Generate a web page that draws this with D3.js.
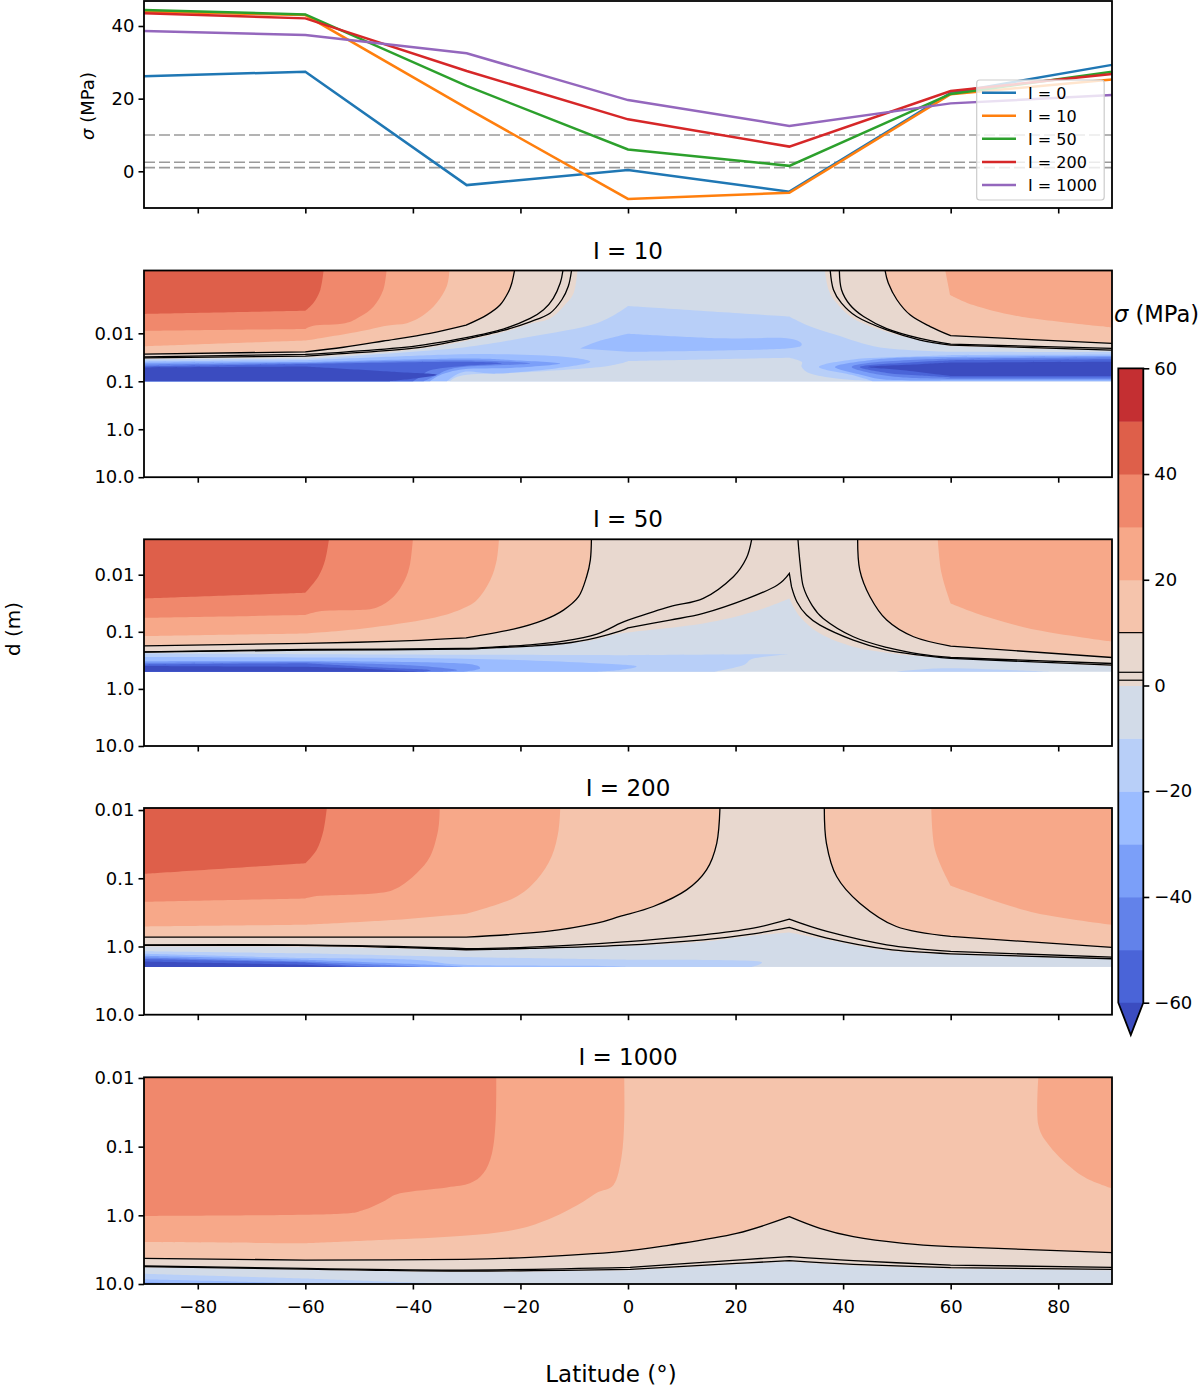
<!DOCTYPE html>
<html>
<head>
<meta charset="utf-8">
<script src="https://cdn.jsdelivr.net/npm/d3@7"></script>
<style>
  body { margin: 0; background: #fff; }
  text { font-family: "DejaVu Sans", sans-serif; fill: #000; }
</style>
</head>
<body>
<svg id="chart" width="1200" height="1386"></svg>
<script>
// surface stress against latitude, one line per I
const lats = [-90, -60, -30, 0, 30, 60, 90];
const stressI0 = [26.2, 27.4, -3.8, 0.35, -5.6, 21.6, 29.3];
const stressI10 = [44, 43, 17.4, -7.6, -5.9, 21.2, 25.3];
const stressI50 = [44.4, 43.2, 23.5, 6, 1.5, 21.3, 27.4];
const stressI200 = [43.5, 42.1, 27.6, 14.3, 6.8, 22.1, 26.8];
const stressI1000 = [38.6, 37.5, 32.5, 19.6, 12.5, 18.7, 21];
const seriesNames = ['I = 0', 'I = 10', 'I = 50', 'I = 200', 'I = 1000'];
const seriesColors = ['#1f77b4', '#ff7f0e', '#2ca02c', '#d62728', '#9467bd'];
const thresholds = [10, 2.5, 1];

// contour bands, points are [latitude, log10 depth]
const bandEdges = [-60, -50, -40, -30, -20, -10, 0, 10, 20, 30, 40, 50];
const bandColors = ['#3b4cc0', '#4a64d8', '#6282ea', '#7b9ff9', '#9bbcff', '#b8cff8', '#d2dbe8',
  '#e8d8cf', '#f5c4ac', '#f7a889', '#f0886c', '#de5f4a', '#c42f32'];
const depthTicks = [0.01, 0.1, 1, 10];
const latTicks = [-80, -60, -40, -20, 0, 20, 40, 60, 80];
const barTicks = [60, 40, 20, 0, -20, -40, -60];
// the model grid nodes, contours bend sharply there
const kinkLats = [-60, -30, 0, 30, 60];

// I = 10
const top10 = -3.31, bot10 = -1;
const i10s45 = [[-56.6, top10], [-57.2, -2.91], [-58.5, -2.63], [-60, -2.47], [-90, -2.405]];
const i10s35 = [[-44.9, top10], [-45.5, -2.91], [-47.3, -2.56], [-49.8, -2.35], [-52.6, -2.21], [-58.5, -2.16], [-60, -2.09], [-90, -2.05]];
const i10s25 = [[-33.2, top10], [-33.7, -2.98], [-35.6, -2.63], [-38, -2.38], [-41.1, -2.21], [-44.9, -2.16], [-50.4, -2.03], [-60, -1.85], [-90, -1.73]];
const i10c10L = [[-21.1, top10], [-21.6, -3.05], [-22.2, -2.87], [-23.8, -2.59], [-26.3, -2.38], [-30.1, -2.17], [-36.8, -2], [-45.5, -1.84], [-52.9, -1.71], [-60, -1.615], [-90, -1.565]];
const i10c2L = [[-12.1, top10], [-12.6, -3.05], [-13.9, -2.73], [-15.7, -2.49], [-18.2, -2.31], [-23.2, -2.09], [-30.1, -1.91], [-39.9, -1.73], [-52.3, -1.615], [-60, -1.56], [-90, -1.51]];
const i10c1L = [[-10.5, top10], [-11.1, -2.98], [-12.3, -2.7], [-14.5, -2.42], [-18.2, -2.24], [-23.2, -2.06], [-30.1, -1.88], [-39.9, -1.69], [-52.3, -1.58], [-60, -1.525], [-90, -1.49]];
const i10c0L = [[-9.4, top10], [-10.1, -2.84], [-12, -2.56], [-14.5, -2.31], [-18.2, -2.2], [-23.2, -2.02], [-30.1, -1.84], [-39.9, -1.66], [-60, -1.5], [-90, -1.47]];
const i10c0R = [[36.6, top10], [37.3, -2.91], [38.8, -2.63], [41.9, -2.31], [48.1, -2.03], [54.3, -1.86], [60, -1.73], [90, -1.64]];
const i10c1R = [[37.6, top10], [38.2, -2.91], [39.7, -2.63], [42.5, -2.35], [48.1, -2.07], [54.3, -1.86], [60, -1.755], [90, -1.65]];
const i10c2R = [[39.3, top10], [39.7, -2.91], [41.3, -2.59], [43.8, -2.35], [48.1, -2.1], [54.3, -1.895], [60, -1.775], [90, -1.685]];
const i10c10R = [[47.8, top10], [48.4, -3.05], [50, -2.7], [52.5, -2.38], [56.2, -2.14], [60, -1.95], [90, -1.79]];
const i10s25R = [[59, top10], [59.9, -2.8], [64.2, -2.59], [72.9, -2.35], [90, -2.12]];
const i10n15 = [[-90, -1.455], [-60, -1.47], [-49.2, -1.545], [-30.6, -1.706], [-18.2, -1.93], [-5.8, -2.21], [0, -2.57], [30, -2.35], [33.2, -2.175], [38.8, -1.965], [46.9, -1.706], [60, -1.615], [90, -1.61]];
const i10gap = [[-33.1, -1], [-30.6, -1.126], [-18.2, -1.196], [-5, -1.3], [-1.5, -1.37], [0, -1.42], [30, -1.49], [32.3, -1.405], [32.3, -1.3], [33.9, -1.16], [38.8, -1.056], [45.6, -1]];
const i10n25mid = [[-8.9, -1.685], [-5.8, -1.825], [0, -1.99], [17.1, -1.895], [29.5, -1.895], [32.3, -1.776], [29.5, -1.685], [0, -1.615]];
const i10n25L = [[-90, -1.413], [-60, -1.44], [-36.8, -1.545], [-24.4, -1.566], [-12, -1.51], [-7, -1.405], [-13.2, -1.27], [-24.4, -1.16], [-30.6, -1.196], [-33.7, -1]];
const i10n35L = [[-90, -1.385], [-60, -1.4], [-30.6, -1.475], [-21.3, -1.44], [-12.6, -1.37], [-21.3, -1.28], [-30.6, -1.25], [-35, -1.126], [-36.8, -1]];
const i10n45L = [[-90, -1.35], [-60, -1.38], [-30.6, -1.44], [-18.2, -1.37], [-30.6, -1.3], [-33.7, -1.23], [-35.6, -1.126], [-38, -1]];
const i10n55L = [[-90, -1.315], [-60, -1.36], [-30.6, -1.405], [-23.5, -1.37], [-30.6, -1.32], [-36.8, -1.23], [-38.5, -1.1], [-40, -1]];
const i10n65L = [[-90, -1.29], [-60, -1.31], [-43, -1.196], [-35.6, -1.14], [-39.9, -1.056], [-44.3, -1]];
const i10n25R = [[45.6, -1], [41.9, -1.126], [35.5, -1.3], [41.9, -1.455], [51.2, -1.51], [60, -1.545], [90, -1.56]];
const i10n35R = [[90, -1.02], [60, -1.02], [48.1, -1.03], [43.1, -1.14], [38.5, -1.3], [45, -1.44], [54.3, -1.5], [90, -1.525]];
const i10n45R = [[90, -1.05], [60, -1.05], [51.2, -1.08], [45.6, -1.16], [41.6, -1.3], [46.9, -1.405], [60, -1.475], [90, -1.5]];
const i10n55R = [[90, -1.08], [60, -1.08], [54.3, -1.12], [48.1, -1.175], [43.1, -1.3], [51.2, -1.385], [60, -1.44], [90, -1.46]];
const i10n65R = [[90, -1.11], [60, -1.11], [51.2, -1.23], [44.7, -1.3], [54.3, -1.357], [60, -1.39], [90, -1.405]];

// I = 50
const top50 = -2.62, bot50 = -0.3;
const i50s45 = [[-55.6, top50], [-56.3, -2.26], [-57.6, -1.965], [-60, -1.685], [-90, -1.585]];
const i50s35 = [[-40, top50], [-40.5, -2.2], [-41.5, -1.907], [-43.6, -1.614], [-46.7, -1.427], [-50.4, -1.38], [-57, -1.363], [-60, -1.293], [-90, -1.246]];
const i50s25 = [[-24, top50], [-24.4, -2.26], [-25.6, -1.907], [-28.1, -1.556], [-31.1, -1.392], [-36.8, -1.234], [-49.2, -1.059], [-60, -0.971], [-90, -0.924]];
const i50c10L = [[-6.8, top50], [-7, -2.26], [-7.7, -1.965], [-9.2, -1.614], [-12, -1.38], [-15.7, -1.205], [-21.3, -1.047], [-30.1, -0.895], [-43, -0.837], [-60, -0.796], [-90, -0.755]];
const i50c10R = [[42.7, top50], [43.1, -2.08], [45, -1.614], [48.1, -1.205], [53.1, -0.913], [60, -0.749], [90, -0.55]];
const i50s25R = [[57.6, top50], [58.3, -2.024], [60, -1.497], [66.7, -1.263], [76, -1.03], [90, -0.825]];
const i50c2L = [[-90, -0.65], [-60, -0.69], [-31, -0.708], [-24.4, -0.737], [-18.2, -0.772], [-12, -0.837], [-5.8, -0.96], [-1.5, -1.146], [0, -1.205], [7.8, -1.44], [14, -1.585], [19.6, -1.965], [22, -2.287], [23, top50]];
const i50c2R = [[31.6, top50], [32, -2.2], [32.6, -1.79], [34.2, -1.468], [36.3, -1.234], [41.9, -0.913], [48.1, -0.726], [54.3, -0.608], [60, -0.55], [90, -0.445]];
const i50c1 = [[-90, -0.644], [-60, -0.68], [-31, -0.696], [-24.4, -0.725], [-18.2, -0.749], [-12, -0.795], [-5.8, -0.9], [-1.5, -1.012], [0, -1.07], [7.8, -1.205], [14, -1.322], [22.3, -1.585], [27.8, -1.82], [30, -2.024], [30.4, -1.79], [31.4, -1.527], [33.2, -1.293], [35.7, -1.117], [41.9, -0.854], [48.1, -0.679], [54.3, -0.591], [60, -0.533], [90, -0.416]];
const i50c0 = [[-90, -0.63], [-60, -0.67], [-31, -0.69], [-18.2, -0.74], [-12, -0.78], [-5.8, -0.87], [-1.5, -0.97], [14, -1.147], [23.3, -1.351], [30, -1.585], [32, -1.263], [35.7, -0.97], [41.9, -0.737], [48.1, -0.632], [54.3, -0.574], [90, -0.4]];
const i50n15L = [[-90, -0.62], [0, -0.59], [30, -0.608], [23.3, -0.533], [21.4, -0.416], [15.9, bot50]];
const i50n15R = [[49.7, bot50], [57.4, -0.357], [66.7, -0.345], [79, bot50]];
const i50n25 = [[-90, -0.56], [-30.6, -0.53], [-1.5, -0.427], [1.6, -0.386], [-1.5, -0.33], [-6, bot50]];
const i50n35 = [[-90, -0.486], [-60, -0.49], [-30.6, -0.445], [-27.5, -0.357], [-30.6, bot50]];
const i50n45 = [[-90, -0.457], [-60, -0.47], [-40, -0.41], [-31.8, -0.33], [-35, bot50]];
const i50n55 = [[-90, -0.427], [-60, -0.45], [-45, -0.37], [-36.8, -0.33], [-38, bot50]];
const i50n65 = [[-90, -0.4], [-60, -0.386], [-50, -0.357], [-38.7, bot50]];

// I = 200
const top200 = -2.03, bot200 = 0.3;
const i200s45 = [[-56, top200], [-56.6, -1.708], [-57.9, -1.415], [-60, -1.22], [-90, -1.064]];
const i200s35 = [[-35, top200], [-35.3, -1.708], [-36.8, -1.318], [-39.3, -1.074], [-43, -0.854], [-46.7, -0.781], [-57.3, -0.742], [-60, -0.703], [-90, -0.654]];
const i200s25 = [[-12.6, top200], [-12.9, -1.708], [-14.2, -1.318], [-17, -0.976], [-21.3, -0.708], [-30.1, -0.479], [-43, -0.391], [-60, -0.318], [-90, -0.293]];
const i200c10L = [[17.1, top200], [16.5, -1.513], [14.6, -1.123], [10.9, -0.83], [4.7, -0.586], [-1.5, -0.44], [-5.8, -0.342], [-15.1, -0.22], [-30.1, -0.137], [-90, -0.137]];
const i200c10R = [[36.5, top200], [36.9, -1.513], [38.8, -1.025], [43.1, -0.635], [49.9, -0.293], [60, -0.147], [90, 0.014]];
const i200s25R = [[56.4, top200], [57.1, -1.415], [60, -0.89], [66.7, -0.708], [76, -0.488], [90, -0.318]];
const i200c2 = [[-90, -0.025], [-61.6, -0.025], [-43, 0], [-30.1, 0.033], [-18.2, 0.009], [-1.5, -0.064], [14, -0.171], [23.3, -0.269], [30, -0.4], [37, -0.22], [48.1, -0.025], [60, 0.073], [90, 0.155]];
const i200c1 = [[-90, -0.015], [-61.6, -0.015], [-43, 0.014], [-30.1, 0.048], [-18.2, 0.029], [-1.5, -0.015], [14, -0.098], [23.3, -0.186], [30, -0.279], [37, -0.123], [48.1, 0.039], [60, 0.107], [90, 0.18]];
const i200c0 = [[-90, 0], [-61.6, 0.005], [-43, 0.03], [-30.1, 0.06], [-18.2, 0.04], [0.4, -0.01], [14, -0.07], [23.3, -0.16], [30, -0.206], [37, -0.1], [48.1, 0.06], [60, 0.12], [90, 0.19]];
const i200n15 = [[-90, 0.07], [-60, 0.1], [-30.6, 0.155], [0, 0.195], [24.5, 0.219], [23, bot200]];
const i200n25 = [[-90, 0.107], [-60, 0.17], [-40, 0.194], [-30.6, 0.268], [-5, 0.285], [0, bot200]];
const i200n35 = [[-90, 0.136], [-60, 0.194], [-36.8, 0.268], [-30.6, bot200]];
const i200n45 = [[-90, 0.16], [-60, 0.22], [-43, 0.277], [-38, bot200]];
const i200n55 = [[-90, 0.185], [-60, 0.233], [-49.2, 0.29], [-45, bot200]];
const i200n65 = [[-90, 0.22], [-60, 0.268], [-52.3, bot200]];

// I = 1000
const top1000 = -2.01, bot1000 = 1;
const i1000s35 = [[-24.5, top1000], [-24.6, -1.388], [-25.3, -0.902], [-26.9, -0.611], [-29.4, -0.466], [-33.7, -0.407], [-42.4, -0.32], [-45.5, -0.2], [-49.2, -0.077], [-54.2, -0.019], [-90, 0.01]];
const i1000s25L = [[-0.7, top1000], [-0.7, -1.388], [-1.2, -0.854], [-2.7, -0.441], [-5.8, -0.33], [-8.9, -0.174], [-15.1, 0.068], [-21.3, 0.214], [-30.6, 0.297], [-43, 0.35], [-60, 0.408], [-90, 0.389]];
const i1000s25R = [[76.3, top1000], [76.3, -1.315], [78.5, -1], [82.2, -0.708], [85.3, -0.538], [90, -0.393]];
const i1000c10 = [[-90, 0.627], [-60, 0.651], [-30.6, 0.641], [-18.2, 0.612], [-1.5, 0.53], [7.8, 0.433], [20.2, 0.263], [30, 0.02], [35.7, 0.19], [41.9, 0.311], [51.2, 0.408], [60, 0.457], [90, 0.544]];
const i1000c2 = [[-90, 0.738], [-60, 0.772], [-30.6, 0.797], [0.4, 0.758], [20.2, 0.651], [30, 0.602], [41.9, 0.661], [60, 0.724], [90, 0.758]];
const i1000c1 = [[-90, 0.748], [-60, 0.782], [-30.6, 0.811], [0.4, 0.787], [20.2, 0.7], [30, 0.661], [41.9, 0.714], [60, 0.763], [90, 0.787]];
const i1000c0 = [[-90, 0.76], [-60, 0.795], [-30.6, 0.825], [0.4, 0.8], [20.2, 0.715], [30, 0.675], [41.9, 0.73], [60, 0.78], [90, 0.8]];
const i1000n15 = [[-90, 0.85], [-60, 0.92], [-43, 0.97], [-30.6, bot1000]];
const i1000n25 = [[-90, 0.93], [-70, 0.97], [-60, bot1000]];
const i1000n35 = [[-90, 0.975], [-80, bot1000]];

// [sigma inside the band, contour, extra corners to close it]
const left = top => [[-90, top]];
const right = top => [[90, top]];
const across = top => [[90, top], [-90, top]];
const belowL = bot => [[-90, bot]];
const belowR = bot => [[90, bot]];

const panels = [
  {
    title: 'I = 10', top: top10, bot: bot10, yTop: 270.5,
    layers: [
      [5, i10c0L, left(top10)], [5, i10c0R, right(top10)],
      [15, i10c10L, left(top10)], [15, i10c10R, right(top10)],
      [25, i10s25, left(top10)], [25, i10s25R, right(top10)],
      [35, i10s35, left(top10)], [45, i10s45, left(top10)],
      [-15, i10n15, [[90, bot10], [-90, bot10]]], [-5, i10gap, []],
      [-25, i10n25mid, []], [-25, i10n25L, belowL(bot10)], [-25, i10n25R, belowR(bot10)],
      [-35, i10n35L, belowL(bot10)], [-35, i10n35R, []],
      [-45, i10n45L, belowL(bot10)], [-45, i10n45R, []],
      [-55, i10n55L, belowL(bot10)], [-55, i10n55R, []],
      [-65, i10n65L, belowL(bot10)], [-65, i10n65R, []]
    ],
    lines: [i10c10L, i10c2L, i10c1L, i10c10R, i10c2R, i10c1R]
  },
  {
    title: 'I = 50', top: top50, bot: bot50, yTop: 539.3,
    layers: [
      [5, i50c0, across(top50)],
      [15, i50c10L, left(top50)], [15, i50c10R, right(top50)],
      [25, i50s25, left(top50)], [25, i50s25R, right(top50)],
      [35, i50s35, left(top50)], [45, i50s45, left(top50)],
      [-15, i50n15L, belowL(bot50)], [-15, i50n15R, []],
      [-25, i50n25, belowL(bot50)], [-35, i50n35, belowL(bot50)],
      [-45, i50n45, belowL(bot50)], [-55, i50n55, belowL(bot50)], [-65, i50n65, belowL(bot50)]
    ],
    lines: [i50c10L, i50c10R, i50c2L, i50c2R, i50c1]
  },
  {
    title: 'I = 200', top: top200, bot: bot200, yTop: 808,
    layers: [
      [5, i200c0, across(top200)],
      [15, i200c10L, left(top200)], [15, i200c10R, right(top200)],
      [25, i200s25, left(top200)], [25, i200s25R, right(top200)],
      [35, i200s35, left(top200)], [45, i200s45, left(top200)],
      [-15, i200n15, belowL(bot200)], [-25, i200n25, belowL(bot200)], [-35, i200n35, belowL(bot200)],
      [-45, i200n45, belowL(bot200)], [-55, i200n55, belowL(bot200)], [-65, i200n65, belowL(bot200)]
    ],
    lines: [i200c10L, i200c10R, i200c2, i200c1]
  },
  {
    title: 'I = 1000', top: top1000, bot: bot1000, yTop: 1077.3,
    layers: [
      [5, i1000c0, across(top1000)], [15, i1000c10, across(top1000)],
      [25, i1000s25L, left(top1000)], [25, i1000s25R, right(top1000)],
      [35, i1000s35, left(top1000)],
      [-15, i1000n15, belowL(bot1000)], [-25, i1000n25, belowL(bot1000)], [-35, i1000n35, belowL(bot1000)]
    ],
    lines: [i1000c10, i1000c2, i1000c1]
  }
];

const svg = d3.select('#chart');
const x0 = 144, x1 = 1112, panelH = 206.7;
const x = d3.scaleLinear().domain([-90, 90]).range([x0, x1]);
const bandColor = d3.scaleThreshold().domain(bandEdges).range(bandColors);
const tickFont = 18;

function styleAxis(g) {
  g.select('.domain').remove();
  g.selectAll('.tick line').attr('stroke', '#000').attr('stroke-width', 1.6);
  g.selectAll('.tick text').style('font-size', tickFont + 'px').style('font-family', '"DejaVu Sans", sans-serif');
}

function xAxis(g, yBottom, showLabels) {
  g.attr('transform', `translate(0,${yBottom})`)
    .call(d3.axisBottom(x).tickValues(latTicks).tickSize(5.5).tickPadding(11)
      .tickFormat(showLabels ? d3.format('d') : ''))
    .call(styleAxis);
}

function frame(g, yTop, h) {
  g.append('rect').attr('x', x0).attr('y', yTop).attr('width', x1 - x0).attr('height', h)
    .attr('fill', 'none').attr('stroke', '#000').attr('stroke-width', 1.8);
}

// top panel: line plot
const yStress = d3.scaleLinear().domain([0, 40]).range([171.3, 26]);
const stressTop = svg.append('g');
stressTop.selectAll('line.th').data(thresholds).join('line')
  .attr('x1', x0).attr('x2', x1)
  .attr('y1', d => yStress(d)).attr('y2', d => yStress(d))
  .attr('stroke', '#9a9a9a').attr('stroke-width', 1.6).attr('stroke-dasharray', '11 4');

const stressLine = d3.line().x((d, i) => x(lats[i])).y(d => yStress(d));
[stressI0, stressI10, stressI50, stressI200, stressI1000].forEach((s, i) => {
  stressTop.append('path').attr('d', stressLine(s)).attr('fill', 'none')
    .attr('stroke', seriesColors[i]).attr('stroke-width', 2.5);
});

stressTop.append('g').attr('transform', `translate(${x0},0)`)
  .call(d3.axisLeft(yStress).tickValues([0, 20, 40]).tickSize(5.5).tickPadding(4))
  .call(styleAxis);
stressTop.append('g').call(xAxis, 208, false);
frame(stressTop, 1, 207);

const sigmaLabel = stressTop.append('text')
  .attr('transform', 'translate(94,106) rotate(-90)').attr('text-anchor', 'middle')
  .style('font-size', '18px');
sigmaLabel.append('tspan').style('font-style', 'italic').text('σ');
sigmaLabel.append('tspan').text(' (MPa)');

// legend
const legend = stressTop.append('g');
legend.append('rect').attr('x', 976.7).attr('y', 80).attr('width', 127.5).attr('height', 120).attr('rx', 3)
  .attr('fill', '#fff').attr('fill-opacity', 0.8).attr('stroke', '#ccc').attr('stroke-width', 1.2);
const legendY = d3.scalePoint().domain(seriesNames).range([92.7, 185]);
seriesNames.forEach((name, i) => {
  legend.append('line').attr('x1', 982).attr('x2', 1016)
    .attr('y1', legendY(name)).attr('y2', legendY(name))
    .attr('stroke', seriesColors[i]).attr('stroke-width', 2.5);
  legend.append('text').attr('x', 1028).attr('y', legendY(name) + 5.8)
    .style('font-size', '16px').text(name);
});

// contour panels
const curve = d3.curveCatmullRom.alpha(0.2);
const sharpen = pts => pts.flatMap(p => kinkLats.some(k => Math.abs(p[0] - k) < 0.45) ? [p, p] : [p]);
panels.forEach((p, idx) => {
  const yBottom = p.yTop + panelH;
  const y = d3.scaleLog().domain([10 ** p.top, 10]).range([p.yTop, yBottom]);
  const g = svg.append('g');
  const clipId = 'clip' + idx;
  g.append('clipPath').attr('id', clipId).append('rect')
    .attr('x', x0).attr('y', p.yTop).attr('width', x1 - x0).attr('height', panelH);

  const plot = g.append('g').attr('clip-path', `url(#${clipId})`);
  const contour = d3.line().curve(curve).x(d => x(d[0])).y(d => y(10 ** d[1]));

  plot.append('rect').attr('x', x0).attr('width', x1 - x0)
    .attr('y', p.yTop).attr('height', y(10 ** p.bot) - p.yTop)
    .attr('fill', bandColor(-5));

  p.layers.forEach(([sigma, pts, corners]) => {
    const tail = corners.map(c => `L${x(c[0])},${y(10 ** c[1])}`).join('');
    plot.append('path').attr('d', contour(sharpen(pts)) + tail + 'Z').attr('fill', bandColor(sigma));
  });
  p.lines.forEach(pts => {
    plot.append('path').attr('d', contour(sharpen(pts))).attr('fill', 'none')
      .attr('stroke', '#000').attr('stroke-width', 1.3);
  });

  g.append('g').attr('transform', `translate(${x0},0)`)
    .call(d3.axisLeft(y).tickValues(depthTicks).tickSize(5.5).tickPadding(4).tickFormat(d => d >= 1 ? d.toFixed(1) : String(d)))
    .call(styleAxis);
  g.append('g').call(xAxis, yBottom, idx === panels.length - 1);
  frame(g, p.yTop, panelH);

  g.append('text').attr('x', 628).attr('y', p.yTop - 12).attr('text-anchor', 'middle')
    .style('font-size', '23px').text(p.title);
});

// colour bar
const barX = 1118.3, barW = 25;
const yBar = d3.scaleLinear().domain([-60, 60]).range([1002.7, 368.3]);
const bar = svg.append('g');
const barEdges = [-60].concat(bandEdges.slice(1), [60]);
d3.pairs(barEdges).forEach(([lo, hi]) => {
  bar.append('rect').attr('x', barX).attr('width', barW)
    .attr('y', yBar(hi)).attr('height', yBar(lo) - yBar(hi) + 0.5)
    .attr('fill', bandColor((lo + hi) / 2));
});
const triangle = `M${barX},${yBar(-60)}L${barX + barW / 2},1035L${barX + barW},${yBar(-60)}`;
bar.append('path').attr('d', triangle + 'Z').attr('fill', bandColor(-65));
thresholds.forEach(t => {
  bar.append('line').attr('x1', barX).attr('x2', barX + barW)
    .attr('y1', yBar(t)).attr('y2', yBar(t)).attr('stroke', '#000').attr('stroke-width', 1.2);
});
bar.append('path')
  .attr('d', `M${barX},${yBar(-60)}V${yBar(60)}H${barX + barW}V${yBar(-60)}L${barX + barW / 2},1035Z`)
  .attr('fill', 'none').attr('stroke', '#000').attr('stroke-width', 1.8);
bar.append('g').attr('transform', `translate(${barX + barW},0)`)
  .call(d3.axisRight(yBar).tickValues(barTicks).tickSize(6).tickPadding(5))
  .call(styleAxis);

const barTitle = svg.append('text').attr('x', 1156.5).attr('y', 322).attr('text-anchor', 'middle')
  .style('font-size', '22.6px');
barTitle.append('tspan').style('font-style', 'italic').text('σ');
barTitle.append('tspan').text(' (MPa)');

// shared labels
svg.append('text').attr('transform', 'translate(20,629) rotate(-90)').attr('text-anchor', 'middle')
  .style('font-size', '20px').text('d (m)');
svg.append('text').attr('x', 611).attr('y', 1382).attr('text-anchor', 'middle')
  .style('font-size', '23px').text('Latitude (°)');
</script>
</body>
</html>
